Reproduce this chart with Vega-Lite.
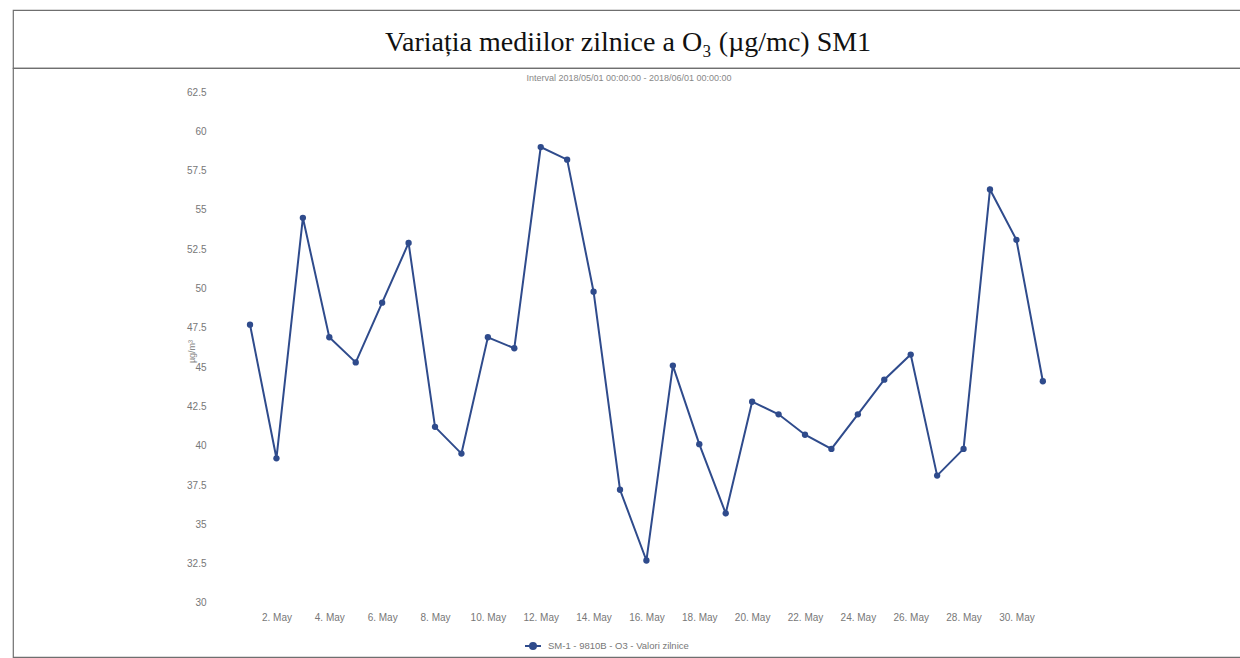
{
  "$schema": "https://vega.github.io/schema/vega-lite/v6.json",
  "background": "white",
  "padding": {"left": 12, "top": 9, "right": 0, "bottom": 0},
  "spacing": 0,
  "bounds": "flush",
  "config": {
    "view": {"stroke": "#6f6f6f", "strokeWidth": 1.2},
    "font": "Liberation Sans"
  },
  "datasets": {
    "ozone": [
      {"date": "2018-05-01", "value": 47.7, "series": "SM-1 - 9810B - O3 - Valori zilnice"},
      {"date": "2018-05-02", "value": 39.2, "series": "SM-1 - 9810B - O3 - Valori zilnice"},
      {"date": "2018-05-03", "value": 54.5, "series": "SM-1 - 9810B - O3 - Valori zilnice"},
      {"date": "2018-05-04", "value": 46.9, "series": "SM-1 - 9810B - O3 - Valori zilnice"},
      {"date": "2018-05-05", "value": 45.3, "series": "SM-1 - 9810B - O3 - Valori zilnice"},
      {"date": "2018-05-06", "value": 49.1, "series": "SM-1 - 9810B - O3 - Valori zilnice"},
      {"date": "2018-05-07", "value": 52.9, "series": "SM-1 - 9810B - O3 - Valori zilnice"},
      {"date": "2018-05-08", "value": 41.2, "series": "SM-1 - 9810B - O3 - Valori zilnice"},
      {"date": "2018-05-09", "value": 39.5, "series": "SM-1 - 9810B - O3 - Valori zilnice"},
      {"date": "2018-05-10", "value": 46.9, "series": "SM-1 - 9810B - O3 - Valori zilnice"},
      {"date": "2018-05-11", "value": 46.2, "series": "SM-1 - 9810B - O3 - Valori zilnice"},
      {"date": "2018-05-12", "value": 59.0, "series": "SM-1 - 9810B - O3 - Valori zilnice"},
      {"date": "2018-05-13", "value": 58.2, "series": "SM-1 - 9810B - O3 - Valori zilnice"},
      {"date": "2018-05-14", "value": 49.8, "series": "SM-1 - 9810B - O3 - Valori zilnice"},
      {"date": "2018-05-15", "value": 37.2, "series": "SM-1 - 9810B - O3 - Valori zilnice"},
      {"date": "2018-05-16", "value": 32.7, "series": "SM-1 - 9810B - O3 - Valori zilnice"},
      {"date": "2018-05-17", "value": 45.1, "series": "SM-1 - 9810B - O3 - Valori zilnice"},
      {"date": "2018-05-18", "value": 40.1, "series": "SM-1 - 9810B - O3 - Valori zilnice"},
      {"date": "2018-05-19", "value": 35.7, "series": "SM-1 - 9810B - O3 - Valori zilnice"},
      {"date": "2018-05-20", "value": 42.8, "series": "SM-1 - 9810B - O3 - Valori zilnice"},
      {"date": "2018-05-21", "value": 42.0, "series": "SM-1 - 9810B - O3 - Valori zilnice"},
      {"date": "2018-05-22", "value": 40.7, "series": "SM-1 - 9810B - O3 - Valori zilnice"},
      {"date": "2018-05-23", "value": 39.8, "series": "SM-1 - 9810B - O3 - Valori zilnice"},
      {"date": "2018-05-24", "value": 42.0, "series": "SM-1 - 9810B - O3 - Valori zilnice"},
      {"date": "2018-05-25", "value": 44.2, "series": "SM-1 - 9810B - O3 - Valori zilnice"},
      {"date": "2018-05-26", "value": 45.8, "series": "SM-1 - 9810B - O3 - Valori zilnice"},
      {"date": "2018-05-27", "value": 38.1, "series": "SM-1 - 9810B - O3 - Valori zilnice"},
      {"date": "2018-05-28", "value": 39.8, "series": "SM-1 - 9810B - O3 - Valori zilnice"},
      {"date": "2018-05-29", "value": 56.3, "series": "SM-1 - 9810B - O3 - Valori zilnice"},
      {"date": "2018-05-30", "value": 53.1, "series": "SM-1 - 9810B - O3 - Valori zilnice"},
      {"date": "2018-05-31", "value": 44.1, "series": "SM-1 - 9810B - O3 - Valori zilnice"}
    ]
  },
  "vconcat": [
    {
      "width": 1232,
      "height": 58,
      "data": {"values": [{"t": "Variația mediilor zilnice a O₃ (µg/mc) SM1", "cx": 0, "cy": 0}]},
      "mark": {"type": "text", "font": "Liberation Serif", "fontSize": 28, "color": "#111", "baseline": "middle", "align": "center", "dy": 4, "dx": -1},
      "encoding": {
        "text": {"field": "t", "type": "nominal"},
        "x": {"field": "cx", "type": "quantitative", "scale": {"domain": [-1, 1]}, "axis": null},
        "y": {"field": "cy", "type": "quantitative", "scale": {"domain": [-1, 1]}, "axis": null}
      }
    },
    {
      "width": 1232,
      "height": 589,
      "title": {
        "text": "Interval 2018/05/01 00:00:00 - 2018/06/01 00:00:00",
        "anchor": "middle",
        "offset": -15,
        "fontSize": 9,
        "font": "Liberation Sans",
        "fontWeight": "normal",
        "color": "#888"
      },
      "data": {"name": "ozone"},
      "encoding": {
        "x": {
          "field": "date",
          "type": "temporal",
          "scale": {
            "type": "utc",
            "domain": [
              {"year": 2018, "month": 4, "date": 22, "hours": 0, "minutes": 45, "utc": true},
              {"year": 2018, "month": 6, "date": 7, "hours": 15, "minutes": 35, "utc": true}
            ]
          },
          "axis": {
            "title": null,
            "format": "%-d. %b",
            "values": [
              {"year": 2018, "month": 5, "date": 2, "utc": true},
              {"year": 2018, "month": 5, "date": 4, "utc": true},
              {"year": 2018, "month": 5, "date": 6, "utc": true},
              {"year": 2018, "month": 5, "date": 8, "utc": true},
              {"year": 2018, "month": 5, "date": 10, "utc": true},
              {"year": 2018, "month": 5, "date": 12, "utc": true},
              {"year": 2018, "month": 5, "date": 14, "utc": true},
              {"year": 2018, "month": 5, "date": 16, "utc": true},
              {"year": 2018, "month": 5, "date": 18, "utc": true},
              {"year": 2018, "month": 5, "date": 20, "utc": true},
              {"year": 2018, "month": 5, "date": 22, "utc": true},
              {"year": 2018, "month": 5, "date": 24, "utc": true},
              {"year": 2018, "month": 5, "date": 26, "utc": true},
              {"year": 2018, "month": 5, "date": 28, "utc": true},
              {"year": 2018, "month": 5, "date": 30, "utc": true}
            ],
            "offset": -47,
            "domain": false,
            "ticks": false,
            "tickSize": 0,
            "grid": false,
            "labelPadding": 2,
            "labelFontSize": 10,
            "labelColor": "#777",
            "labelFont": "Liberation Sans"
          }
        },
        "y": {
          "field": "value",
          "type": "quantitative",
          "scale": {"domain": [26.56, 64.03], "nice": false, "zero": false},
          "axis": {
            "title": "µg/m³",
            "titleFontSize": 9,
            "titleFontWeight": "normal",
            "titleColor": "#888888",
            "titleFont": "Liberation Sans",
            "titleX": -17,
            "titleY": 283,
            "titleBaseline": "middle",
            "titleAlign": "center",
            "titleAngle": -90,
            "format": ".1~f",
            "values": [30, 32.5, 35, 37.5, 40, 42.5, 45, 47.5, 50, 52.5, 55, 57.5, 60, 62.5],
            "offset": -195,
            "domain": false,
            "ticks": false,
            "tickSize": 0,
            "grid": false,
            "labelPadding": 2,
            "labelFontSize": 10,
            "labelColor": "#777",
            "labelFont": "Liberation Sans"
          }
        },
        "color": {
          "field": "series",
          "type": "nominal",
          "scale": {"range": ["#2f4b8c"]},
          "legend": {
            "title": null,
            "orient": "none",
            "legendX": 515,
            "legendY": 631,
            "symbolType": "M-2,0L2,0M-0.75,0A0.75,0.75,0,1,0,0.75,0A0.75,0.75,0,1,0,-0.75,0Z",
            "symbolSize": 64,
            "symbolStrokeWidth": 2,
            "labelOffset": 10,
            "labelFontSize": 9.5,
            "labelColor": "#777",
            "labelFont": "Liberation Sans"
          }
        }
      },
      "layer": [
        {"mark": {"type": "line", "strokeWidth": 2}},
        {"mark": {"type": "point", "filled": true, "size": 40, "opacity": 1}}
      ]
    }
  ]
}
